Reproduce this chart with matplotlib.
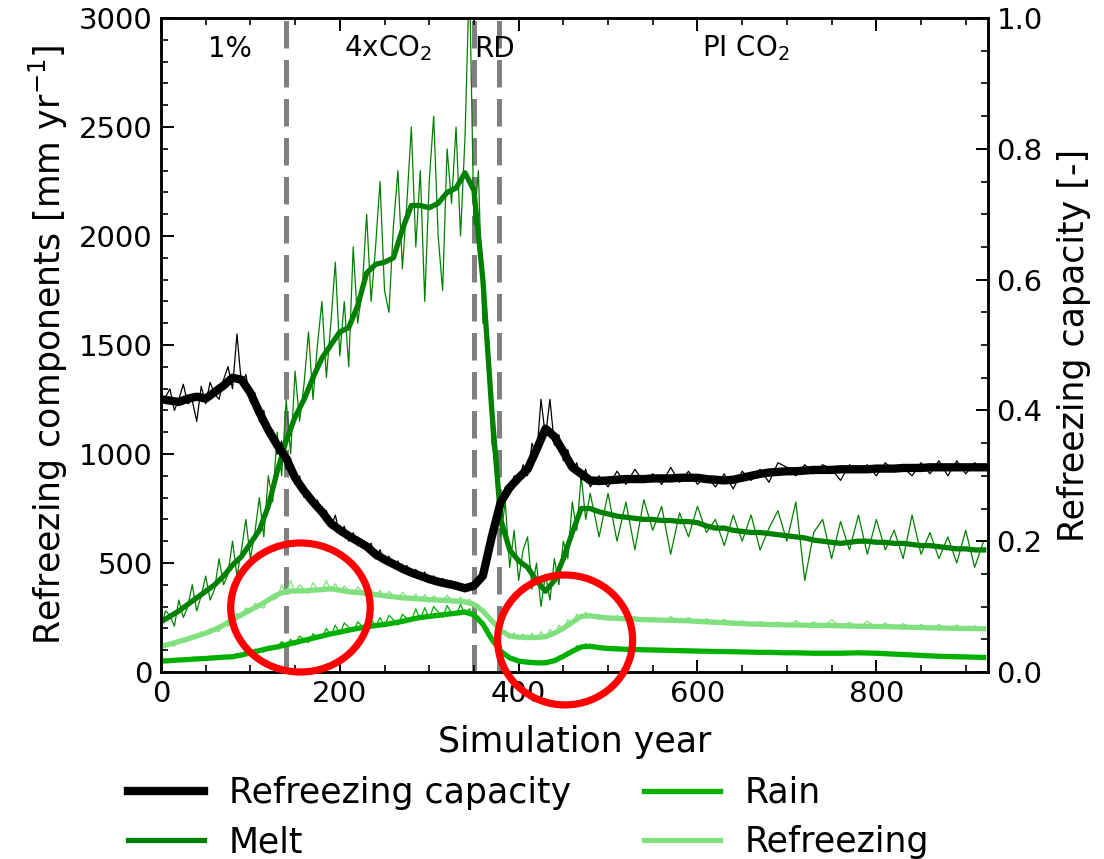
import numpy as np
import matplotlib
matplotlib.use("Agg")
import matplotlib.pyplot as plt
from matplotlib.patches import Ellipse
from matplotlib.ticker import MultipleLocator

# ---------------- data ----------------
# smoothed series, every 10 years (0..920)
years_smooth = np.arange(0, 930, 10)

cap_smooth = [0.417, 0.415, 0.413, 0.418, 0.421, 0.418, 0.428, 0.438, 0.450, 0.447,
              0.427, 0.397, 0.370, 0.347, 0.327, 0.297, 0.277, 0.260, 0.245, 0.227,
              0.217, 0.208, 0.200, 0.192, 0.180, 0.172, 0.165, 0.158, 0.152, 0.147,
              0.142, 0.138, 0.135, 0.132, 0.128, 0.132, 0.147, 0.207, 0.260, 0.282,
              0.297, 0.310, 0.340, 0.372, 0.360, 0.337, 0.313, 0.303, 0.293, 0.292,
              0.293, 0.294, 0.295, 0.295, 0.295, 0.296, 0.296, 0.296, 0.297, 0.297,
              0.297, 0.295, 0.294, 0.293, 0.294, 0.297, 0.300, 0.303, 0.305, 0.306,
              0.307, 0.307, 0.308, 0.309, 0.309, 0.309, 0.310, 0.310, 0.310, 0.310,
              0.311, 0.311, 0.311, 0.312, 0.312, 0.312, 0.313, 0.313, 0.313, 0.313,
              0.313, 0.313, 0.313]

melt_smooth = [230, 255, 280, 310, 340, 370, 400, 440, 490, 530,
               590, 650, 760, 920, 1060, 1170, 1250, 1350, 1440, 1500,
               1560, 1580, 1680, 1830, 1870, 1880, 1900, 2030, 2140, 2140,
               2130, 2150, 2200, 2220, 2290, 2210, 1800, 1200, 700, 560,
               510, 480, 420, 370, 420, 520, 640, 750, 750, 735,
               725, 715, 710, 705, 700, 700, 695, 695, 690, 690,
               685, 670, 660, 660, 650, 645, 640, 640, 635, 630,
               625, 620, 615, 605, 600, 595, 590, 595, 600, 600,
               595, 595, 590, 590, 585, 580, 580, 575, 570, 565,
               565, 560, 560]

rain_smooth = [50, 52, 55, 57, 60, 62, 65, 68, 70, 78,
               88, 98, 108, 115, 125, 135, 145, 155, 165, 175,
               183, 192, 200, 207, 213, 218, 225, 232, 242, 250,
               255, 260, 265, 270, 275, 262, 220, 150, 95, 65,
               50, 45, 42, 42, 52, 72, 95, 115, 118, 112,
               108, 106, 104, 103, 102, 101, 100, 99, 98, 97,
               96, 95, 94, 94, 93, 92, 91, 90, 90, 89,
               88, 88, 87, 86, 86, 86, 86, 87, 88, 87,
               86, 84, 82, 80, 78, 76, 74, 72, 71, 70,
               69, 68, 67]

refr_smooth = [118, 128, 140, 152, 165, 178, 195, 215, 240, 262,
               285, 305, 330, 355, 370, 372, 372, 375, 378, 382,
               375, 368, 365, 360, 355, 350, 345, 340, 338, 335,
               332, 330, 328, 325, 322, 310, 280, 235, 190, 165,
               160, 158, 158, 162, 178, 200, 228, 255, 258, 252,
               248, 246, 244, 242, 240, 239, 238, 237, 236, 235,
               232, 230, 228, 226, 224, 222, 220, 219, 218, 217,
               216, 215, 215, 214, 214, 213, 212, 211, 210, 210,
               209, 208, 207, 206, 205, 204, 203, 202, 201, 200,
               200, 199, 198]

# raw (noisy) series: every 5 years to 480, every 10 years afterwards
years_raw = np.concatenate([np.arange(0, 485, 5), np.arange(490, 930, 10)])

melt_raw = [200, 280, 260, 210, 330, 250, 300, 400, 280, 350,
            440, 330, 380, 520, 400, 450, 600, 440, 560, 700,
            520, 640, 800, 620, 900, 780, 1100, 900, 1250, 1000,
            1380, 1150, 1320, 1560, 1250, 1500, 1700, 1350, 1600, 1880,
            1450, 1700, 1400, 1950, 1600, 1750, 2100, 1700, 1950, 2250,
            1750, 1650, 2050, 2300, 1850, 2150, 2500, 1950, 2300, 1700,
            2250, 2550, 2000, 1750, 2400, 2150, 2500, 2000, 2450, 3200,
            2050, 2300, 1600, 1600, 1050, 950, 620, 780, 480, 650,
            420, 560, 620, 380, 500, 300, 450, 330, 520, 400,
            600, 520, 780, 650, 900, 700, 820,
            620, 820, 600, 780, 560, 790, 650, 760, 540, 730,
            620, 760, 640, 700, 580, 720, 600, 720, 560, 660,
            740, 600, 780, 420, 640, 700, 520, 690, 560, 720,
            540, 700, 560, 650, 520, 720, 540, 640, 520, 620,
            500, 650, 480, 600]

cap_raw = [0.407, 0.420, 0.433, 0.400, 0.417, 0.440, 0.410, 0.415, 0.383, 0.437,
           0.410, 0.443, 0.425, 0.417, 0.447, 0.467, 0.433, 0.517, 0.440, 0.455,
           0.413, 0.427, 0.383, 0.400, 0.360, 0.370, 0.333, 0.353, 0.310, 0.327,
           0.287, 0.300, 0.267, 0.277, 0.253, 0.263, 0.237, 0.247, 0.220, 0.240,
           0.210, 0.223, 0.200, 0.213, 0.193, 0.203, 0.187, 0.197, 0.173, 0.187,
           0.167, 0.177, 0.160, 0.170, 0.153, 0.163, 0.147, 0.157, 0.142, 0.153,
           0.137, 0.147, 0.133, 0.143, 0.130, 0.140, 0.127, 0.135, 0.123, 0.133,
           0.128, 0.143, 0.147, 0.180, 0.200, 0.240, 0.253, 0.283, 0.273, 0.300,
           0.290, 0.317, 0.300, 0.350, 0.327, 0.417, 0.360, 0.417, 0.347, 0.363,
           0.323, 0.340, 0.307, 0.320, 0.293, 0.310, 0.283,
           0.300, 0.283, 0.307, 0.287, 0.310, 0.290, 0.303, 0.287, 0.313, 0.290,
           0.307, 0.287, 0.300, 0.283, 0.303, 0.280, 0.307, 0.293, 0.310, 0.290,
           0.320, 0.313, 0.300, 0.317, 0.303, 0.317, 0.310, 0.293, 0.317, 0.307,
           0.317, 0.300, 0.320, 0.307, 0.313, 0.300, 0.320, 0.303, 0.323, 0.300,
           0.323, 0.303, 0.320, 0.310]

rain_raw = [45, 60, 52, 48, 62, 55, 50, 68, 58, 70,
            58, 72, 66, 60, 75, 68, 65, 85, 72, 95,
            82, 105, 98, 92, 118, 110, 108, 140, 118, 150,
            125, 165, 150, 135, 175, 160, 158, 200, 168, 215,
            175, 225, 205, 185, 230, 210, 198, 245, 205, 250,
            210, 260, 240, 215, 265, 245, 235, 290, 242, 295,
            245, 300, 275, 250, 305, 270, 262, 310, 265, 290,
            250, 255, 210, 195, 140, 130, 90, 85, 62, 65,
            48, 55, 42, 50, 40, 48, 40, 55, 50, 72,
            68, 95, 90, 120, 110, 130, 112,
            120, 100, 115, 98, 110, 96, 108, 94, 106, 92,
            104, 90, 102, 88, 100, 86, 98, 85, 96, 84,
            95, 82, 94, 80, 92, 80, 92, 80, 95, 82,
            96, 80, 92, 76, 88, 72, 84, 68, 80, 66,
            76, 64, 74, 62]

refr_raw = [110, 130, 125, 118, 145, 135, 142, 170, 155, 185,
            168, 200, 192, 185, 222, 210, 228, 270, 250, 295,
            272, 315, 305, 292, 340, 330, 340, 400, 355, 420,
            360, 400, 380, 360, 410, 380, 368, 420, 370, 405,
            365, 395, 375, 358, 390, 370, 350, 380, 345, 375,
            340, 370, 350, 335, 365, 345, 328, 358, 325, 355,
            322, 350, 335, 320, 352, 330, 315, 345, 312, 335,
            300, 310, 270, 265, 228, 220, 182, 190, 155, 180,
            150, 175, 148, 178, 150, 185, 155, 195, 170, 215,
            192, 240, 220, 265, 248, 275, 250,
            262, 238, 258, 236, 255, 230, 250, 228, 255, 226,
            250, 222, 245, 220, 242, 212, 236, 212, 232, 208,
            230, 206, 235, 208, 230, 206, 240, 205, 228, 200,
            235, 200, 225, 198, 222, 198, 218, 196, 218, 195,
            215, 192, 212, 194]

dividers = [140, 350, 378]
period_labels = ["1%", "4xCO$_2$", "RD", "PI CO$_2$"]
period_label_x = [77, 254, 373, 654]

# ---------------- colours ----------------
c_cap = "black"
c_melt = "#008000"
c_rain = "#00b000"
c_refr = "#80e080"

plt.rcParams["font.family"] = "DejaVu Sans"

fig = plt.figure(figsize=(11.04, 8.59), dpi=100)
ax = fig.add_axes([0.1458, 0.2177, 0.895 - 0.1458, 0.979 - 0.2177])
ax2 = ax.twinx()

def xr(vals):
    return years_raw[:len(vals)]

def xs(vals):
    return years_smooth[:len(vals)]

for d in dividers:
    ax.axvline(d, color="#808080", lw=3.6, linestyle=(0, (5.5, 2.3)), zorder=1)

ax.plot(xr(melt_raw), melt_raw, color=c_melt, lw=0.9, zorder=2)
ax.plot(xr(refr_raw), refr_raw, color=c_refr, lw=0.9, zorder=2)
ax.plot(xr(rain_raw), rain_raw, color=c_rain, lw=0.9, zorder=2)

l_melt, = ax.plot(xs(melt_smooth), melt_smooth, color=c_melt, lw=3.8, zorder=3, label="Melt")
l_refr, = ax.plot(xs(refr_smooth), refr_smooth, color=c_refr, lw=3.8, zorder=3, label="Refreezing")
l_rain, = ax.plot(xs(rain_smooth), rain_smooth, color=c_rain, lw=3.8, zorder=3, label="Rain")

ax2.plot(xr(cap_raw), cap_raw, color=c_cap, lw=0.9, zorder=2)
l_cap, = ax2.plot(xs(cap_smooth), cap_smooth, color=c_cap, lw=6, zorder=3,
                  label="Refreezing capacity")

for lab, xp in zip(period_labels, period_label_x):
    ax.text(xp, 2860, lab, ha="center", va="center", fontsize=20)

ax.set_xlim(0, 925)
ax.set_ylim(0, 3000)
ax2.set_ylim(0, 1.0)

ax.xaxis.set_major_locator(MultipleLocator(200))
ax.xaxis.set_minor_locator(MultipleLocator(50))
ax.yaxis.set_major_locator(MultipleLocator(500))
ax.yaxis.set_minor_locator(MultipleLocator(100))
ax2.yaxis.set_major_locator(MultipleLocator(0.2))
ax2.yaxis.set_minor_locator(MultipleLocator(0.05))
ax2.set_yticks([0.0, 0.2, 0.4, 0.6, 0.8, 1.0])
ax2.set_yticklabels(["0.0", "0.2", "0.4", "0.6", "0.8", "1.0"])

ax.tick_params(axis="x", which="both", direction="in", top=True, bottom=True,
               labelsize=21, pad=6)
ax.tick_params(axis="y", which="both", direction="in", left=True, right=False,
               labelsize=21, pad=6)
ax2.tick_params(axis="y", which="both", direction="in", right=True, left=False,
                labelsize=21, pad=6)
for a in (ax, ax2):
    a.tick_params(which="major", length=9, width=1.4)
    a.tick_params(which="minor", length=5, width=1.2)
    for s in a.spines.values():
        s.set_linewidth(1.8)

ax.set_xlabel("Simulation year", fontsize=25, labelpad=12)
ax.set_ylabel("Refreezing components [mm yr$^{-1}$]", fontsize=25, labelpad=6)
ax2.set_ylabel("Refreezing capacity [-]", fontsize=25, labelpad=10)

# highlighted regions (red circles)
for (cx, cy, w, h) in [(156, 296, 156, 592), (452, 147, 151, 596)]:
    e = Ellipse((cx, cy), w, h, transform=ax.transData, fill=False,
                edgecolor="red", lw=5.2, clip_on=False, zorder=10)
    ax2.add_patch(e)

fig.legend(handles=[l_cap, l_melt, l_rain, l_refr], ncol=2, frameon=False,
           loc="upper left", bbox_to_anchor=(0.116, 0.097), borderaxespad=0,
           borderpad=0, fontsize=25, handlelength=2.2, handletextpad=0.7,
           columnspacing=2.1, labelspacing=0.45)

fig.savefig("out.png", dpi=100)
